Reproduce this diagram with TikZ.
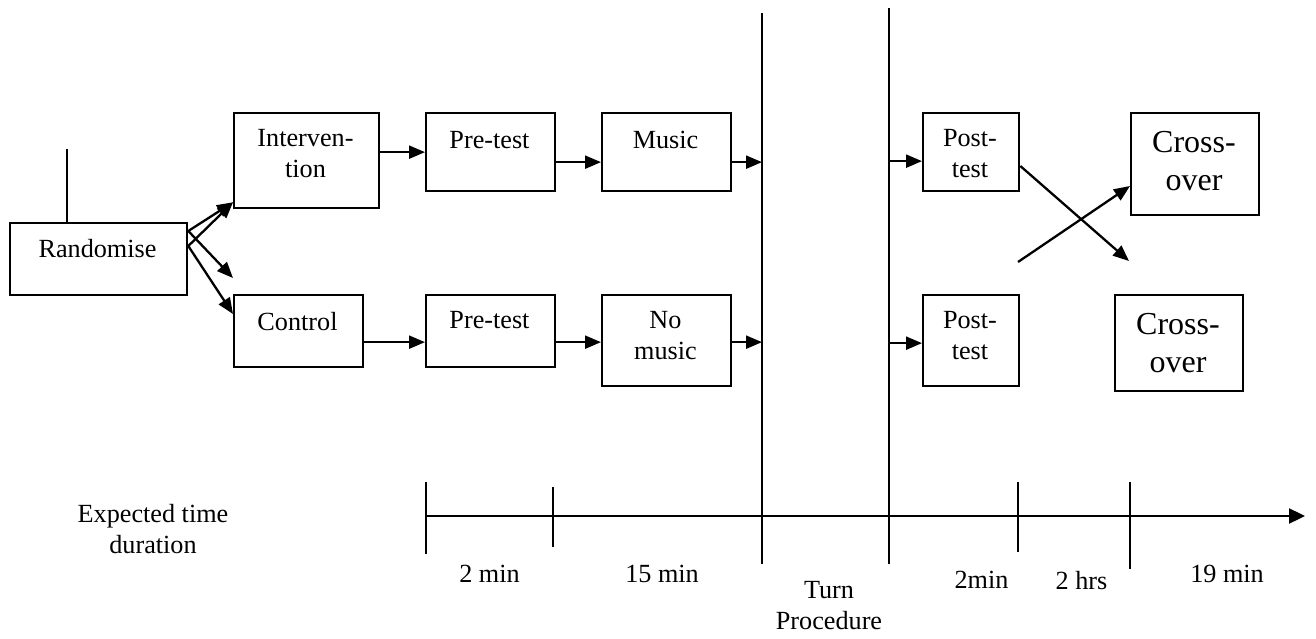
\documentclass[tikz,border=0pt]{standalone}
\usepackage{fontspec}
\setmainfont{Liberation Serif}
\usetikzlibrary{arrows.meta}
\begin{document}
\begin{tikzpicture}[x=1pt,y=-1pt,
  box/.style={draw, line width=2.3pt, inner sep=0pt, anchor=north west},
  lbl/.style={inner sep=0pt, anchor=north, align=center, font=\fontsize{26.2}{31}\selectfont},
  big/.style={inner sep=0pt, anchor=north, align=center, font=\fontsize{32}{38}\selectfont},
  ln/.style={line width=2.3pt},
  arr/.style={line width=2.3pt, -{Triangle[length=16pt,width=13pt]}},
]
\useasboundingbox (0,0) rectangle (1316,639);

% boxes
\node[box, minimum width=177pt, minimum height=72pt] (rand) at (9,222) {};
\node[box, minimum width=145pt, minimum height=95pt] (interv) at (233,112) {};
\node[box, minimum width=129pt, minimum height=72pt] (ctrl) at (233,294) {};
\node[box, minimum width=129pt, minimum height=78pt] (pre1) at (425,112) {};
\node[box, minimum width=129pt, minimum height=78pt] (music) at (601,112) {};
\node[box, minimum width=129pt, minimum height=72pt] (pre2) at (425,294) {};
\node[box, minimum width=129pt, minimum height=91pt] (nomusic) at (601,294) {};
\node[box, minimum width=96pt, minimum height=78pt] (post1) at (922,112) {};
\node[box, minimum width=96pt, minimum height=91pt] (post2) at (922,294) {};
\node[box, minimum width=128pt, minimum height=102pt] (cross1) at (1130,112) {};
\node[box, minimum width=128pt, minimum height=96pt] (cross2) at (1114,294) {};

% box texts
\node[lbl] (randT) at (97.5,239.4) {Randomise};
\node[lbl] (intervT) at (305.5,129.4) {Interven-\\tion};
\node[lbl] (ctrlT) at (297.5,312.4) {Control};
\node[lbl] (pre1T) at (489.5,131.4) {Pre-test};
\node[lbl] (musicT) at (665.5,131.4) {Music};
\node[lbl] (pre2T) at (489.5,311.4) {Pre-test};
\node[lbl] (nomusicT) at (665.5,311.4) {No\\music};
\node[lbl] (post1T) at (970,129.4) {Post-\\test};
\node[lbl] (post2T) at (970,311.4) {Post-\\test};
\node[big] (cross1T) at (1194,131.5) {Cross-\\over};
\node[big] (cross2T) at (1178,313.5) {Cross-\\over};

% big vertical lines
\coordinate (v1t) at (762,13);
\coordinate (v1b) at (762,564);
\coordinate (v2t) at (889,8);
\coordinate (v2b) at (889,564);
\draw[ln] (v1t) -- (v1b);
\draw[ln] (v2t) -- (v2b);

% randomise connectors
\coordinate (randtop) at (67,149);
\draw[ln] (randtop) -- (randtop |- rand.north);
\coordinate (ra) at ([yshift=-9pt]rand.north east);
\coordinate (rb) at ([yshift=-24pt]rand.north east);
\coordinate (fr) at (233,278);
\draw[arr] (ra) -- ([yshift=7pt]interv.south west);
\draw[arr] (rb) -- ([yshift=7pt]interv.south west);
\draw[arr] (ra) -- (fr);
\draw[arr] (rb) -- ([yshift=-20pt]ctrl.north west);

% upper row
\draw[arr] (interv.east |- pre1.west) -- (pre1.west);
\coordinate (r1) at ([yshift=-10pt]pre1.east);
\draw[arr] (r1) -- (r1 -| music.west);
\draw[arr] (r1 -| music.east) -- (r1 -| v1t);
\coordinate (p1) at ([yshift=-9pt]post1.west);
\draw[arr] (p1 -| v2t) -- (p1);

% lower row
\coordinate (r2) at ([yshift=-11pt]ctrl.east);
\draw[arr] (r2) -- (r2 -| pre2.west);
\draw[arr] (r2 -| pre2.east) -- (r2 -| nomusic.west);
\draw[arr] (r2 -| nomusic.east) -- (r2 -| v1t);
\coordinate (p2) at ([yshift=-2.5pt]post2.west);
\draw[arr] (p2 -| v2t) -- (p2);

% cross-over arrows
\coordinate (x1) at (1129,261);
\coordinate (x2) at (1018,262);
\draw[arr] ([yshift=-54pt]post1.north east) -- (x1);
\draw[arr] (x2) -- ([yshift=-74pt]cross1.north west);

% time axis
\coordinate (ax0) at (426,516);
\coordinate (ax1) at (1305,516);
\draw[line width=2.3pt, -{Triangle[length=16pt,width=15pt]}] (ax0) -- (ax1);
\coordinate (t1a) at (426,482); \coordinate (t1b) at (426,554);
\coordinate (t2a) at (553,487); \coordinate (t2b) at (553,547);
\coordinate (t3a) at (1018,482); \coordinate (t3b) at (1018,552);
\coordinate (t4a) at (1130,482); \coordinate (t4b) at (1130,569);
\draw[ln] (t1a) -- (t1b);
\draw[ln] (t2a) -- (t2b);
\draw[ln] (t3a) -- (t3b);
\draw[ln] (t4a) -- (t4b);

% axis labels
\node[lbl] (exp) at (153,504.4) {Expected time\\duration};
\node[lbl] (d1) at (489.5,565.4) {2 min};
\node[lbl] (d2) at (662,565.4) {15 min};
\node[lbl] (d3) at (829,581.4) {Turn\\Procedure};
\node[lbl] (d4) at (981.5,571.4) {2min};
\node[lbl] (d5) at (1081.5,571.4) {2 hrs};
\node[lbl] (d6) at (1227,565.4) {19 min};
\end{tikzpicture}
\end{document}
